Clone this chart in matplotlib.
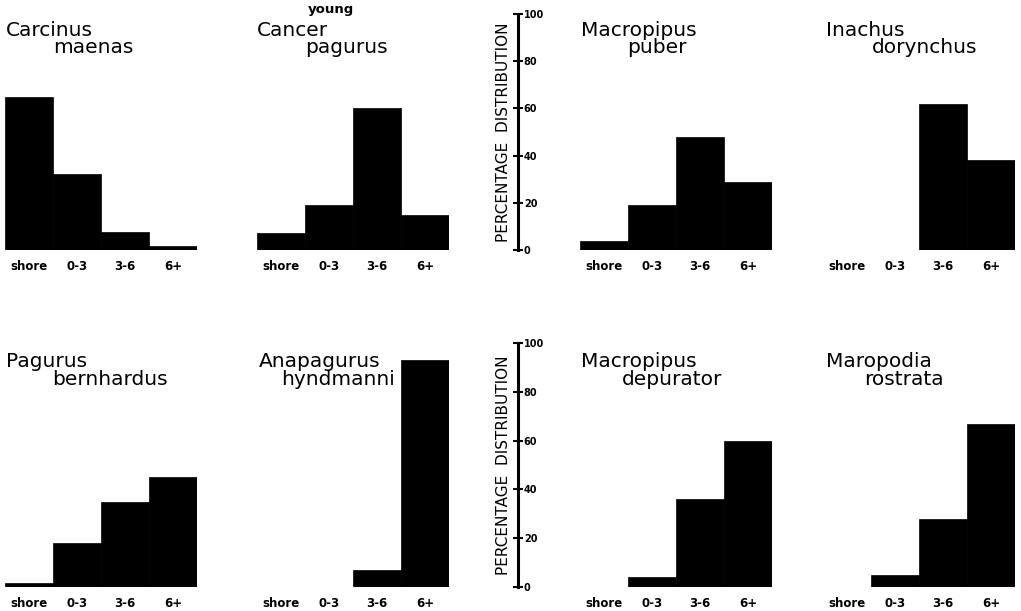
import matplotlib
matplotlib.use("Agg")
import matplotlib.pyplot as plt

W, H = 1021, 611

depths = ["shore", "0-3", "3-6", "6+"]

# percentage distribution per species (shore, 0-3, 3-6, 6+)
carcinus_maenas = [65, 32, 7.5, 1.5]
cancer_pagurus = [7, 19, 60, 15]
macropipus_puber = [4, 19, 48, 29]
inachus_dorynchus = [0, 0, 62, 38]
pagurus_bernhardus = [1.5, 18, 35, 45]
anapagurus_hyndmanni = [0, 0, 7, 93]
macropipus_depurator = [0, 4, 36, 60]
maropodia_rostrata = [0, 5, 28, 67]

yticks = [0, 20, 40, 60, 80, 100]
ylabel = "PERCENTAGE  DISTRIBUTION"

rows = [
    [("Carcinus", "maenas", carcinus_maenas),
     ("Cancer", "pagurus", cancer_pagurus),
     ("Macropipus", "puber", macropipus_puber),
     ("Inachus", "dorynchus", inachus_dorynchus)],
    [("Pagurus", "bernhardus", pagurus_bernhardus),
     ("Anapagurus", "hyndmanni", anapagurus_hyndmanni),
     ("Macropipus", "depurator", macropipus_depurator),
     ("Maropodia", "rostrata", maropodia_rostrata)],
]

# layout in pixels
col_x = [5, 257, 580, 823]
col_w = 192
row_y = [(250, 14), (587, 343)]          # (zero line, 100 line)
title_x = [[1, 0, 1, 3], [1, 2, 1, 3]]
indent = [[47, 48, 46, 46], [46, 22, 41, 38]]
title_base = [(36, 53), (367, 385)]
axis_x = 517


def fx(px):
    return px / W


def fy(py):
    return 1 - py / H


fig = plt.figure(figsize=(W / 100, H / 100), dpi=100)

for r, row in enumerate(rows):
    y0, y1 = row_y[r]
    for c, (name1, name2, vals) in enumerate(row):
        ax = fig.add_axes([fx(col_x[c]), fy(y0), fx(col_w), (y0 - y1) / H])
        ax.bar(range(len(depths)), vals, width=1.0, color="black", edgecolor="black", linewidth=0.5)
        ax.set_xlim(-0.5, 3.5)
        ax.set_ylim(0, 100)
        ax.set_xticks(range(len(depths)))
        ax.set_xticklabels(depths, fontsize=8.5, fontweight="bold")
        ax.tick_params(axis="x", length=0, pad=7)
        ax.set_yticks([])
        for s in ax.spines.values():
            s.set_visible(False)
        tx = col_x[c] + title_x[r][c]
        b1, b2 = title_base[r]
        fig.text(fx(tx), fy(b1), name1, fontsize=14.5, va="baseline", ha="left")
        fig.text(fx(tx + indent[r][c]), fy(b2), name2, fontsize=14.5, va="baseline", ha="left")

    # shared percentage axis between columns 2 and 3
    yax = fig.add_axes([fx(axis_x) - 0.0005, fy(y0), 0.001, (y0 - y1) / H])
    yax.set_ylim(0, 100)
    yax.set_xticks([])
    for side in ["top", "bottom", "left"]:
        yax.spines[side].set_visible(False)
    yax.spines["right"].set_linewidth(2.2)
    yax.yaxis.tick_right()
    yax.set_yticks(yticks)
    yax.set_yticklabels([str(t) for t in yticks], fontsize=7, fontweight="bold")
    yax.tick_params(axis="y", direction="inout", length=7, width=1.5, pad=1)
    fig.text(fx(503), fy((y0 + y1) / 2), ylabel, rotation=90, fontsize=11,
             ha="center", va="center")

fig.text(fx(308), fy(13), "young", fontsize=9.5, fontweight="bold", va="baseline", ha="left")

fig.savefig("out.png", dpi=100)
